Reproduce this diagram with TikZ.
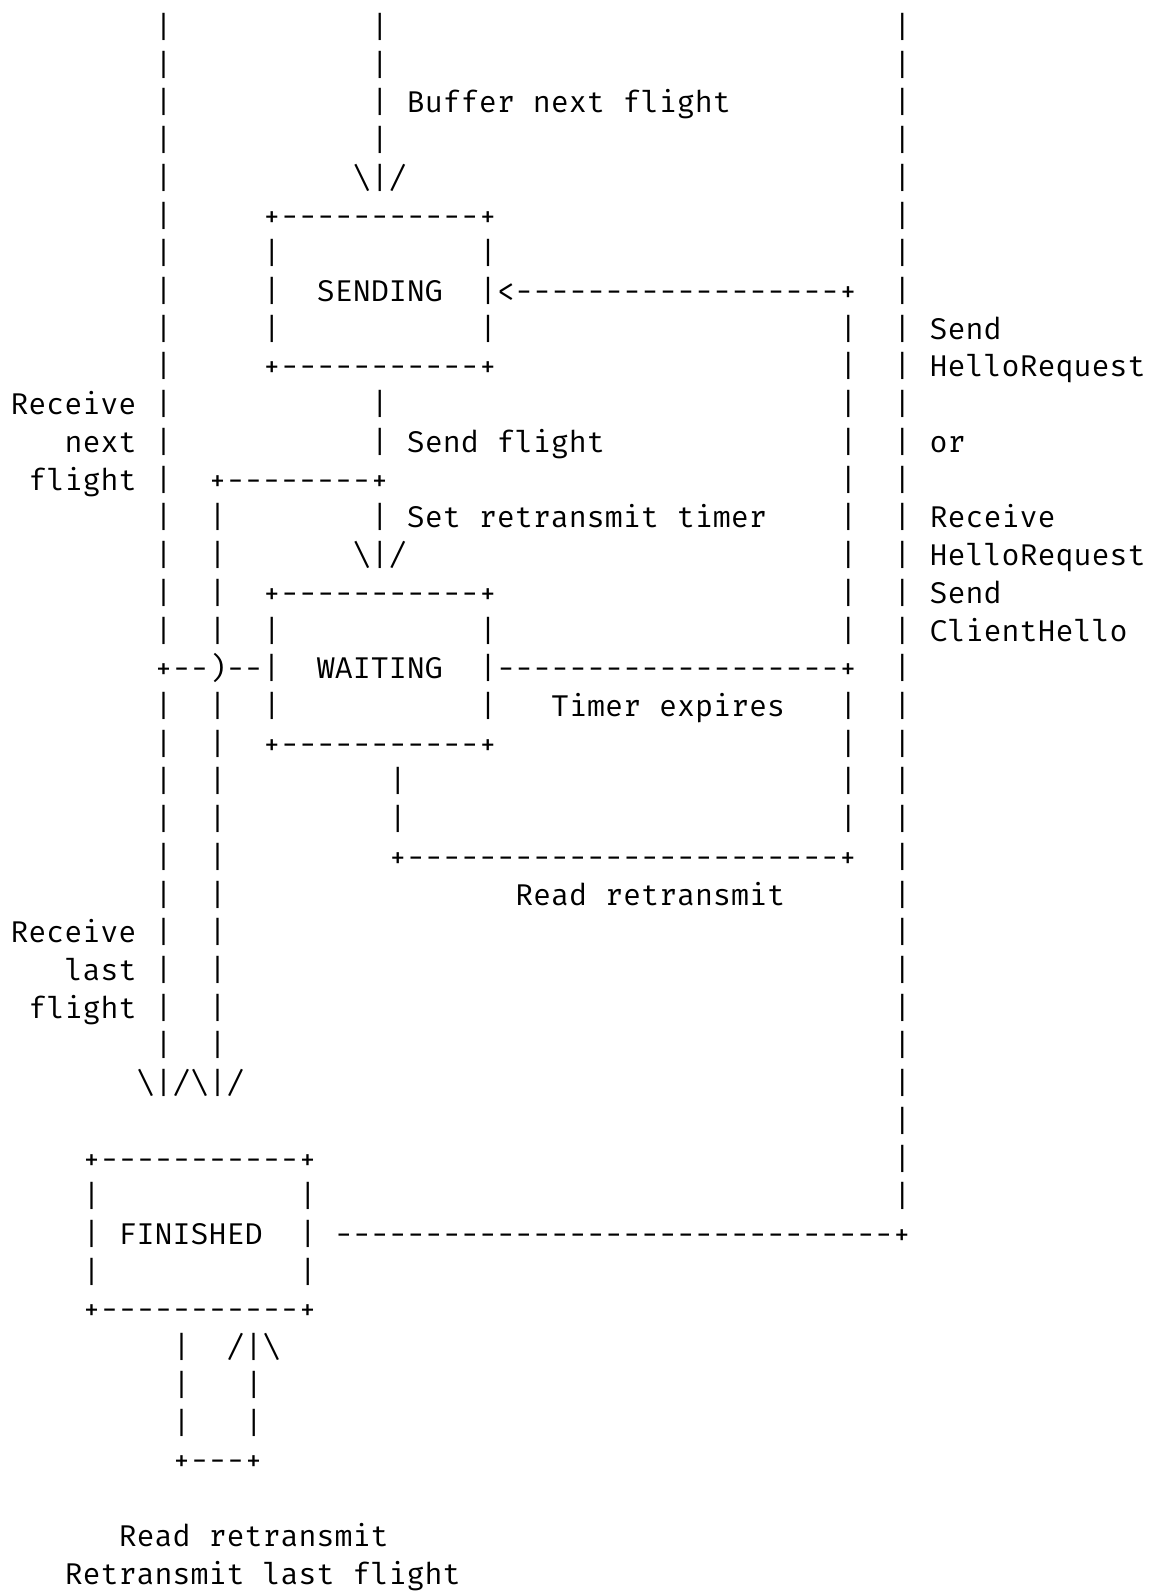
\documentclass[tikz,border=0pt]{standalone}
\usepackage{fontspec}
\setmonofont{Fira Mono}

\begin{document}
\begin{tikzpicture}%
        [x=9.01pt, y=-18.86pt,
        txt/.style={font=\ttfamily\fontsize{15pt}{18pt}\selectfont,
            anchor=base west, inner sep=0pt, outer sep=0pt}]
    %
    %% Page, origin at the left of column 0 on the first baseline
    \fill[white] (-5.25pt,18.75pt) rectangle (573.75pt,-776.75pt);
    %%
    %% Drawing the long verticals
    \foreach \r in {0,1,...,16,18,19,...,27}
        \node[txt] (outerL-\r) at (8,\r) {|};
    \foreach \r in {13,14,15,16,18,19,...,27}
        \node[txt] (innerL-\r) at (11,\r) {|};
    \foreach \r in {0,1,2,3,10,11,13}
        \node[txt] (mid-\r) at (20,\r) {|};
    \foreach \r in {8,9,...,16,18,19,20,21}
        \node[txt] (innerR-\r) at (46,\r) {|};
    \foreach \r in {0,1,...,31}
        \node[txt] (outerR-\r) at (49,\r) {|};
    \foreach \r in {20,21}
        \node[txt] (readV-\r) at (21,\r) {|};
    %%
    %% Drawing the SENDING box
    \node[txt] (sendArrow) at (19,4) {\textbackslash|/};
    \node[txt] (sendT) at (14,5) {+-----------+};
    \foreach \r in {6,7,8}
        \node[txt] (sendL-\r) at (14,\r) {|};
    \foreach \r in {6,8}
        \node[txt] (sendR-\r) at (26,\r) {|};
    \node[txt] (sending) at (17,7) {SENDING};
    \node[txt] (retry) at (26,7) {|<------------------+};
    \node[txt] (sendB) at (14,9) {+-----------+};
    \node[txt] (sendFlt) at (11,12) {+--------+};
    %%
    %% Drawing the WAITING box
    \node[txt] (waitArrow) at (19,14) {\textbackslash|/};
    \node[txt] (waitT) at (14,15) {+-----------+};
    \foreach \r in {16,18}
        \node[txt] (waitL-\r) at (14,\r) {|};
    \foreach \r in {16,18}
        \node[txt] (waitR-\r) at (26,\r) {|};
    \node[txt] (cross) at (8,17) {+--)--|};
    \node[txt] (waiting) at (17,17) {WAITING};
    \node[txt] (expire) at (26,17) {|-------------------+};
    \node[txt] (waitB) at (14,19) {+-----------+};
    \node[txt] (readLoop) at (21,22) {+------------------------+};
    %%
    %% Drawing the FINISHED box
    \node[txt] (finArrow) at (7,28) {\textbackslash|/\textbackslash|/};
    \node[txt] (finT) at (4,30) {+-----------+};
    \foreach \r in {31,32,33}
        \node[txt] (finL-\r) at (4,\r) {|};
    \foreach \r in {31,32,33}
        \node[txt] (finR-\r) at (16,\r) {|};
    \node[txt] (finished) at (6,32) {FINISHED};
    \node[txt] (restart) at (18,32) {-------------------------------+};
    \node[txt] (finB) at (4,34) {+-----------+};
    \node[txt] (loopL-35) at (9,35) {|};
    \node[txt] (loopArrow) at (12,35) {/|\textbackslash};
    \foreach \r in {36,37}
        \node[txt] (loopL-\r) at (9,\r) {|};
    \foreach \r in {36,37}
        \node[txt] (loopR-\r) at (13,\r) {|};
    \node[txt] (loopB) at (9,38) {+---+};
    %%
    %% Labels
    \node[txt] (lBuffer) at (22,2) {Buffer next flight};
    \node[txt] (lSend) at (22,11) {Send flight};
    \node[txt] (lTimer) at (22,13) {Set retransmit timer};
    \node[txt] (lExpire) at (30,18) {Timer expires};
    \node[txt] (lRead) at (28,23) {Read retransmit};
    \node[txt] (lNext1) at (0,10) {Receive};
    \node[txt] (lNext2) at (3,11) {next};
    \node[txt] (lNext3) at (1,12) {flight};
    \node[txt] (lLast1) at (0,24) {Receive};
    \node[txt] (lLast2) at (3,25) {last};
    \node[txt] (lLast3) at (1,26) {flight};
    \node[txt] (lHello1) at (51,8) {Send};
    \node[txt] (lHello2) at (51,9) {HelloRequest};
    \node[txt] (lHello3) at (51,11) {or};
    \node[txt] (lHello4) at (51,13) {Receive};
    \node[txt] (lHello5) at (51,14) {HelloRequest};
    \node[txt] (lHello6) at (51,15) {Send};
    \node[txt] (lHello7) at (51,16) {ClientHello};
    \node[txt] (lFin1) at (6,40) {Read retransmit};
    \node[txt] (lFin2) at (3,41) {Retransmit last flight};
    %%
    \end{tikzpicture}
\end{document}
